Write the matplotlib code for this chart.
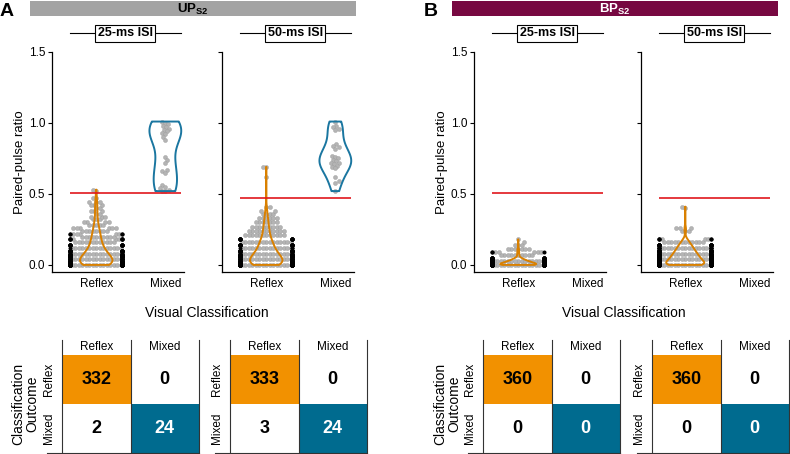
import numpy as np
import matplotlib.pyplot as plt
from matplotlib.patches import Rectangle

plt.rcParams['font.family'] = ['Liberation Sans', 'DejaVu Sans']
plt.rcParams['mathtext.fontset'] = 'custom'
plt.rcParams['mathtext.rm'] = 'Liberation Sans'
plt.rcParams['mathtext.bf'] = 'Liberation Sans:bold'

W, H = 790, 454

# ---- data ----
categories = ['Reflex', 'Mixed']
isi_labels = ['25-ms ISI', '50-ms ISI']
panel_names = [r'$\mathbf{UP}_{\mathbf{S2}}$', r'$\mathbf{BP}_{\mathbf{S2}}$']
thresholds = [0.51, 0.47]

up25_reflex_levels = [0.00, 0.02, 0.04, 0.06, 0.08, 0.10, 0.12, 0.14, 0.16, 0.18, 0.20, 0.22, 0.24,
                      0.26, 0.28, 0.30, 0.32, 0.34, 0.36, 0.38, 0.40, 0.42, 0.44, 0.47, 0.52, 0.53]
up25_reflex_counts = [54, 46, 38, 32, 26, 20, 16, 14, 12, 11, 10, 9, 8,
                      6, 5, 4, 3, 3, 2, 3, 2, 3, 3, 2, 1, 1]
up50_reflex_levels = [0.00, 0.02, 0.04, 0.06, 0.08, 0.10, 0.12, 0.14, 0.16, 0.18, 0.21, 0.24,
                      0.27, 0.30, 0.33, 0.36, 0.38, 0.41, 0.62, 0.69]
up50_reflex_counts = [53, 46, 38, 32, 26, 22, 18, 16, 15, 14, 12, 11,
                      9, 7, 6, 4, 2, 2, 1, 2]
bp25_reflex_levels = [0.00, 0.01, 0.02, 0.03, 0.04, 0.05, 0.07, 0.09, 0.11, 0.14, 0.16, 0.18]
bp25_reflex_counts = [110, 80, 60, 40, 25, 15, 10, 8, 7, 3, 1, 1]
bp50_reflex_levels = [0.00, 0.02, 0.04, 0.06, 0.08, 0.10, 0.12, 0.14, 0.16, 0.18, 0.24, 0.26, 0.40, 0.41]
bp50_reflex_counts = [76, 56, 48, 42, 36, 30, 24, 20, 12, 8, 3, 3, 1, 1]

up25_mixed = [1.01, 1.00, 0.99, 0.98, 0.97, 0.96, 0.95, 0.94, 0.93, 0.92, 0.90, 0.88,
              0.76, 0.74, 0.72, 0.67, 0.66, 0.65, 0.56, 0.55, 0.54, 0.53, 0.52, 0.52]
up50_mixed = [1.01, 0.98, 0.97, 0.96, 0.95, 0.85, 0.84, 0.83, 0.82, 0.77, 0.76, 0.75,
              0.74, 0.73, 0.72, 0.72, 0.71, 0.70, 0.69, 0.68, 0.62, 0.59, 0.58, 0.52]

conf_up25 = [[332, 0], [2, 24]]
conf_up50 = [[333, 0], [3, 24]]
conf_bp25 = [[360, 0], [0, 0]]
conf_bp50 = [[360, 0], [0, 0]]

# ---- styling ----
ORANGE_CELL = '#f29100'
BLUE_CELL = '#006b8f'
ORANGE_LINE = '#d98000'
BLUE_LINE = '#1a76a0'
RED = '#e0161c'
DOT = '#b4b4b4'


def swarm_offsets(vals, ypx, xpx, d=3.5, hw=26.0):
    # simple beeswarm in pixel space, points past the half width pile up at the edge
    vals = np.asarray(vals, float)
    xs = np.zeros(len(vals))
    over = np.zeros(len(vals), bool)
    px, py = [], []
    flip = 1.0
    for i in np.argsort(vals, kind='stable'):
        y = vals[i] * ypx
        c = 0.0
        if px:
            ax_ = np.array(px)
            ay = np.array(py)
            near = np.abs(ay - y) < d
            nx = ax_[near]
            dy = ay[near] - y
            dx = np.sqrt(d * d - dy * dy)
            cands = np.concatenate([[0.0], nx + dx, nx - dx])
            key = np.abs(cands) - 1e-6 * np.sign(cands) * flip
            cands = cands[np.argsort(key, kind='stable')]
            for c in cands:
                if np.all((nx - c) ** 2 + dy ** 2 >= d * d - 1e-6):
                    break
        flip = -flip
        if abs(c) > hw:
            xs[i] = np.sign(c) * hw
            over[i] = True
        else:
            xs[i] = c
            px.append(c)
            py.append(y)
    return xs / xpx, over


fig = plt.figure(figsize=(W / 100, H / 100), dpi=100)

XLIM = (-0.64, 1.27)
YLIM = (-0.05, 1.5)

ax_px = [52, 222, 474, 641]
ax_w = 132
groups = [
    (np.repeat(up25_reflex_levels, up25_reflex_counts), up25_mixed, 0.47, 0.46),
    (np.repeat(up50_reflex_levels, up50_reflex_counts), up50_mixed, 0.47, 0.46),
    (np.repeat(bp25_reflex_levels, bp25_reflex_counts), None, 0.52, 0),
    (np.repeat(bp50_reflex_levels, bp50_reflex_counts), None, 0.55, 0),
]

for k, (left, (reflex, mixed, wr, wm)) in enumerate(zip(ax_px, groups)):
    ax = fig.add_axes([left / W, 1 - 272 / H, ax_w / W, 220 / H])
    ax.set_xlim(*XLIM)
    ax.set_ylim(*YLIM)
    xpx = ax_w / (XLIM[1] - XLIM[0])
    ypx = 220 / (YLIM[1] - YLIM[0])

    for pos, vals in ((0, reflex), (1, mixed)):
        if vals is None:
            continue
        off, over = swarm_offsets(vals, ypx, xpx)
        vals = np.asarray(vals)
        ax.scatter(pos + off[~over], vals[~over], s=8.5, color=DOT, edgecolor='#9c9c9c',
                   linewidth=0.3, zorder=2)
        ax.scatter(pos + off[over], vals[over], s=8.5, color='black', linewidth=0, zorder=2)

    vp = ax.violinplot([reflex], positions=[0], widths=wr, showextrema=False)
    for b in vp['bodies']:
        b.set_alpha(1)
        b.set_facecolor('none')
        b.set_edgecolor(ORANGE_LINE)
        b.set_linewidth(1.4)
        b.set_zorder(3)
    if mixed is not None:
        vp = ax.violinplot([mixed], positions=[1], widths=wm, showextrema=False)
        for b in vp['bodies']:
            b.set_alpha(1)
            b.set_facecolor('none')
            b.set_edgecolor(BLUE_LINE)
            b.set_linewidth(1.4)
            b.set_zorder(3)

    ax.hlines(thresholds[k % 2], -0.38, 1.23, color=RED, lw=1.2, zorder=4)

    ax.spines[['top', 'right']].set_visible(False)
    for s in ('left', 'bottom'):
        ax.spines[s].set_linewidth(0.9)
    ax.set_yticks([0, 0.5, 1.0, 1.5])
    ax.set_xticks([0, 1])
    ax.set_xticklabels(categories, fontsize=8.5)
    ax.tick_params(axis='x', length=0, pad=4)
    ax.tick_params(axis='y', length=3, width=0.8, labelsize=8.5, pad=2)
    if k % 2 == 0:
        ax.set_yticklabels(['0.0', '0.5', '1.0', '1.5'])
        ax.set_ylabel('Paired-pulse ratio', fontsize=9.5, labelpad=2)
    else:
        ax.set_yticklabels([])

    # boxed ISI header with side lines
    tr = ax.get_xaxis_transform()
    yy = (272 - 33) / 220
    ax.plot([-0.38, 1.22], [yy, yy], transform=tr, color='black', lw=0.8, clip_on=False)
    ax.text(0.42, yy, isi_labels[k % 2], transform=tr, ha='center', va='center',
            fontsize=9, fontweight='bold',
            bbox=dict(boxstyle='square,pad=0.2', facecolor='white', edgecolor='black', lw=0.8))

# banners and panel letters
for x0, color, tcolor, name, letter, lx in ((30, '#a3a3a3', 'black', panel_names[0], 'A', 7),
                                           (452, '#770841', 'white', panel_names[1], 'B', 431)):
    fig.add_artist(Rectangle((x0 / W, 1 - 16 / H), 326 / W, 15 / H, transform=fig.transFigure,
                             facecolor=color, edgecolor='none'))
    fig.text((x0 + 163) / W, 1 - 9 / H, name, ha='center', va='center', fontsize=9.5, color=tcolor)
    fig.text(lx / W, 1 - 11 / H, letter, ha='center', va='center', fontsize=14, fontweight='bold')

for cx in (207, 624):
    fig.text(cx / W, 1 - 313 / H, 'Visual Classification', ha='center', va='center', fontsize=10)
for cx in (25, 447):
    fig.text(cx / W, 1 - 404 / H, 'Classification\nOutcome', ha='center', va='center',
             fontsize=10, rotation=90, linespacing=1.0)

# confusion tables
tab_px = [62, 230, 483, 652]
for left, conf in zip(tab_px, [conf_up25, conf_up50, conf_bp25, conf_bp50]):
    at = fig.add_axes([left / W, 1 - 453 / H, 137 / W, 98 / H])
    at.set_xlim(0, 2)
    at.set_ylim(2, 0)
    at.axis('off')
    for r in range(2):
        for c in range(2):
            fc = 'white'
            tc = 'black'
            if r == c == 0:
                fc = ORANGE_CELL
            elif r == c == 1:
                fc = BLUE_CELL
                tc = 'white'
            at.add_patch(Rectangle((c, r), 1, 1, facecolor=fc, edgecolor='none'))
            at.text(c + 0.5, r + 0.5, str(conf[r][c]), ha='center', va='center',
                    fontsize=13, fontweight='bold', color=tc)
    for c in range(2):
        at.text(c + 0.5, -0.16, categories[c], ha='center', va='center', fontsize=8.5)
    for r in range(2):
        at.text(-0.19, r + 0.5, categories[r], ha='center', va='center', fontsize=8.5, rotation=90)
    for x in (0, 1, 2):
        at.plot([x, x], [-0.31, 2], color='#333333', lw=0.8, clip_on=False)
    at.plot([-0.22, 2], [2, 2], color='#333333', lw=0.8, clip_on=False)

fig.savefig('out.png', dpi=100)
